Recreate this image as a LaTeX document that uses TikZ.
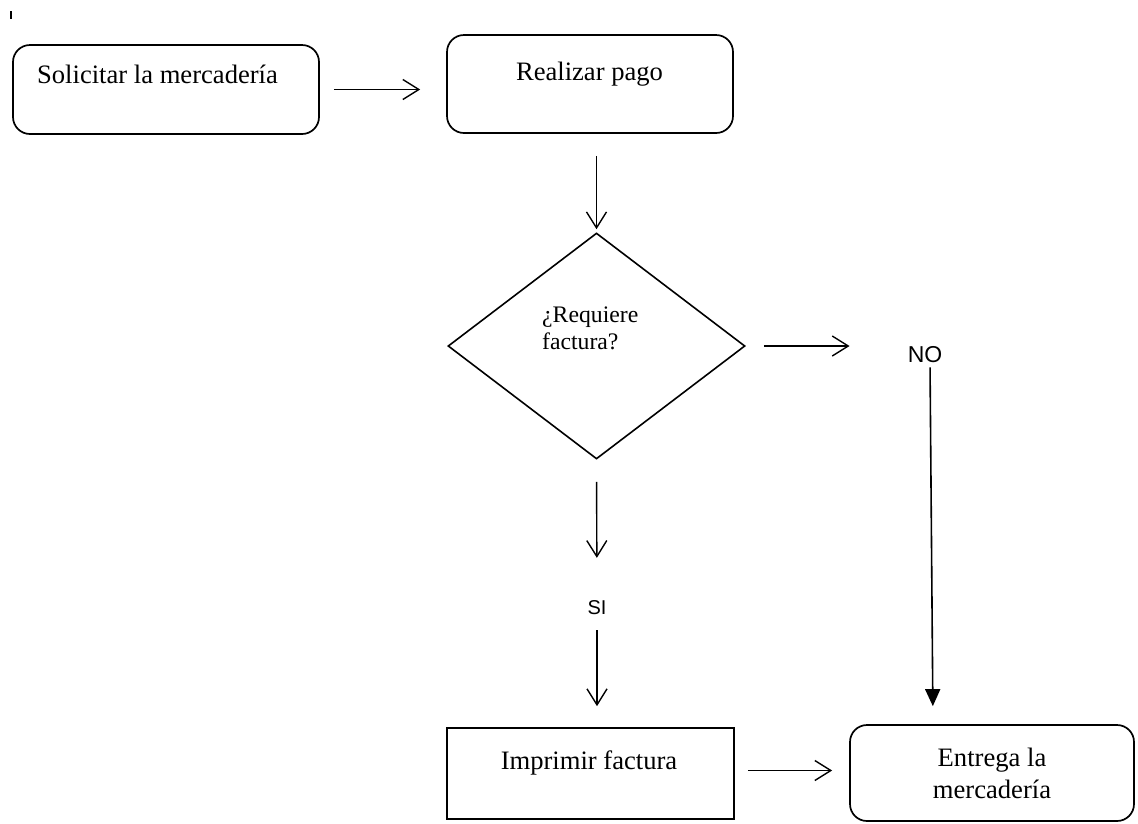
\documentclass[tikz,border=0pt]{standalone}
\usepackage{fontspec}
\setmainfont{Liberation Serif}
\newfontfamily\rotulofont{Liberation Sans}
\usetikzlibrary{shapes.geometric,arrows.meta}

\tikzset{
  caja/.style={draw,line width=1.7pt,rounded corners=17pt,inner sep=0pt,align=center,font=\fontsize{26.6}{32}\selectfont},
  cajarecta/.style={caja,sharp corners},
  rombo/.style={draw,line width=1.6pt,diamond,inner sep=0pt},
  texto/.style={inner sep=0pt,font=\fontsize{26.6}{32}\selectfont},
  textorombo/.style={inner sep=0pt,align=left,font=\fontsize{23.7}{27}\selectfont},
  rotulo/.style={inner sep=0pt,font=\rotulofont\fontsize{#1}{#1}\selectfont},
  flecha/.style={line width=1.4pt,-{Straight Barb[length=16pt,width=20pt]}},
  flechallena/.style={line width=1.6pt,-{Triangle[length=17pt,width=15pt]}}
}

\begin{document}
\begin{tikzpicture}[x=1pt,y=-1pt]
    \useasboundingbox (0,0) rectangle (1138,823);
    \draw[line width=1.2pt] (11,11) -- (11,19);

    \node[caja,minimum width=306pt,minimum height=89pt] (solicitar) at (166,89.5) {};
    \node[texto,anchor=base] (solicitar-txt) at (157.5,83) {Solicitar la mercadería};

    \node[caja,minimum width=286pt,minimum height=98pt] (pago) at (590,84) {};
    \node[texto,anchor=base] (pago-txt) at (589.5,80) {Realizar pago};

    \node[rombo,minimum width=297pt,minimum height=226pt] (decision) at (596.5,346) {};
    \node[textorombo,anchor=west] (decision-txt) at (542,328.4) {¿Requiere\\factura?};

    \node[rotulo=23,anchor=base] (no) at (925,362) {NO};
    \node[rotulo=20,anchor=base] (si) at (597,614) {SI};

    \node[cajarecta,minimum width=287pt,minimum height=91pt] (imprimir) at (590.5,773.5) {};
    \node[texto,anchor=base] (imprimir-txt) at (589,769) {Imprimir factura};

    \node[caja,minimum width=284pt,minimum height=96pt] (entrega) at (992,773) {Entrega la\\mercadería};

    \draw[flecha,shorten <=14pt,shorten >=26pt] (solicitar.east) -- (solicitar.east -| pago.west);
    \draw[flecha,shorten <=22pt,shorten >=3pt] (decision.north |- pago.south) -- (decision.north);
    \draw[flecha,shorten <=18pt,shorten >=58pt] (decision.east) -- (decision.east -| no.west);
    \draw[flechallena,shorten <=5pt,shorten >=18pt] ([xshift=5pt]no.south) -- ([xshift=8pt]no.south |- entrega.north);
    \draw[flecha,shorten <=22pt,shorten >=42pt] (decision.south) -- (si.north);
    \draw[flecha,shorten <=16pt,shorten >=21pt] (si.south) -- (si.south |- imprimir.north);
    \draw[flecha,shorten <=13pt,shorten >=17pt] ([yshift=3pt]imprimir.east) -- ([yshift=3pt]imprimir.east -| entrega.west);
\end{tikzpicture}
\end{document}
